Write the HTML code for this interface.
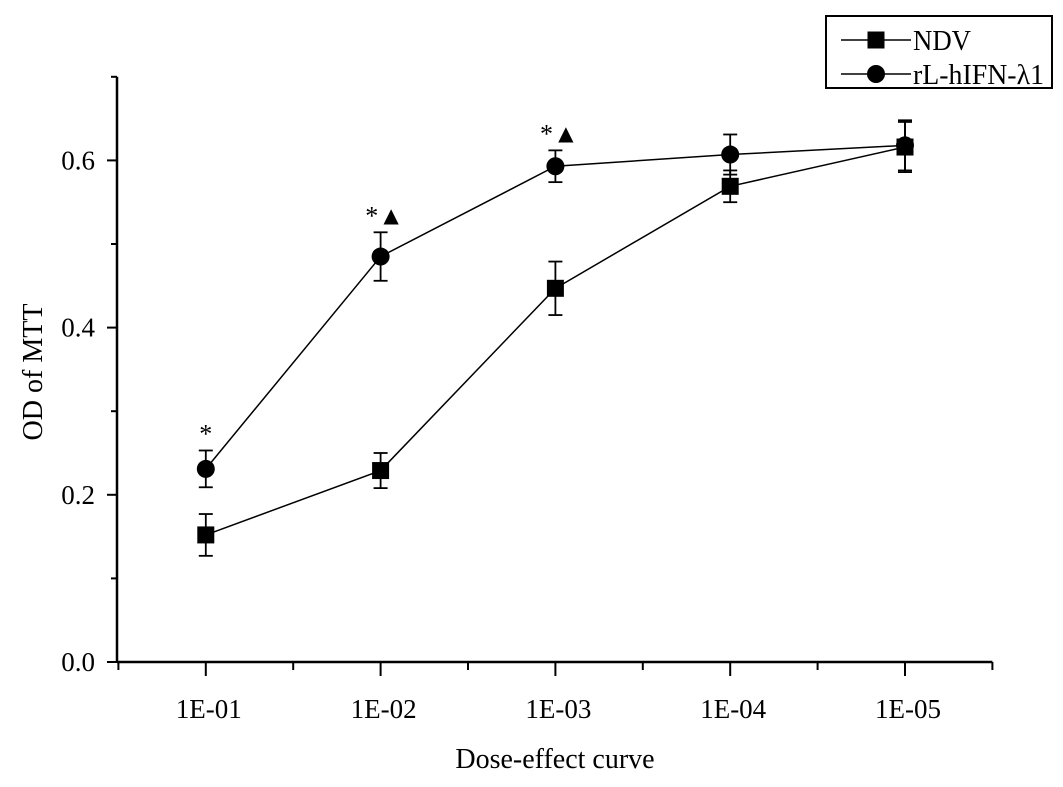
<!DOCTYPE html>
<html><head><meta charset="utf-8"><style>
html,body{margin:0;padding:0;background:#fff;}
svg text{font-family:"Liberation Serif",serif;fill:#000;}
</style></head><body>
<svg id="chart" width="1063" height="782" viewBox="0 0 1063 782" xmlns="http://www.w3.org/2000/svg">
<g id="axes"></g><g id="series"></g><g id="legend"></g>
</svg>
<script>
const categories = ["1E-01","1E-02","1E-03","1E-04","1E-05"];
const ndvValues = [0.152,0.229,0.447,0.569,0.616];
const ndvErrors = [0.025,0.021,0.032,0.019,0.03];
const rlValues = [0.231,0.485,0.593,0.607,0.618];
const rlErrors = [0.022,0.029,0.019,0.024,0.03];
const yTicks = [0.0,0.2,0.4,0.6];
const yTickLabels = ["0.0","0.2","0.4","0.6"];
const annotations = ["*","*▲","*▲","",""];

const NS="http://www.w3.org/2000/svg";
function mk(tag,attrs,parent){const e=document.createElementNS(NS,tag);for(const k in attrs)e.setAttribute(k,attrs[k]);parent.appendChild(e);return e;}
const X0=205.8, XS=174.8, Y0=662, YS=836;
function xs(i){return X0+i*XS;}
function ys(v){return Y0-v*YS;}
const axes=document.getElementById('axes');
let yl=mk('line',{x1:117,y1:ys(0.7),x2:117,y2:Y0,stroke:'#000','stroke-width':2.5},axes);


let xl=mk('line',{x1:117,y1:Y0,x2:xs(4.5),y2:Y0,stroke:'#000','stroke-width':2.5},axes);


for(let v=0;v<=0.7001;v+=0.1){
  const major=Math.round(v*10)%2===0;
  mk('line',{x1:117,y1:ys(v),x2:117-(major?10:6),y2:ys(v),stroke:'#000','stroke-width':2},axes);
}
yTicks.forEach((v,i)=>{
  const t=mk('text',{x:95,y:ys(v)+9,'text-anchor':'end','font-size':27},axes);
  t.textContent=yTickLabels[i];
  
  
});
for(let k=-0.5;k<=4.51;k+=0.5){
  const major=Math.abs(k-Math.round(k))<0.01;
  mk('line',{x1:xs(k),y1:Y0,x2:xs(k),y2:Y0+(major?14:8),stroke:'#000','stroke-width':2},axes);
}
categories.forEach((c,i)=>{
  const t=mk('text',{x:xs(i)+3,y:718,'text-anchor':'middle','font-size':27},axes);
  t.textContent=c;
  
  
});
let xt=mk('text',{x:555,y:768,'text-anchor':'middle','font-size':28},axes);
xt.textContent='Dose-effect curve';


let yt=mk('text',{x:0,y:0,'text-anchor':'middle','font-size':28,transform:'translate(42,372) rotate(-90)'},axes);
yt.textContent='OD of MTT';



const ser=document.getElementById('series');
function marker(x,y,shape,parent){
  if(shape==='square') return mk('rect',{x:x-8.5,y:y-8.5,width:17,height:17,fill:'#000'},parent);
  return mk('circle',{cx:x,cy:y,r:9,fill:'#000'},parent);
}
function drawSeries(vals,errs,shape,name){
  const g=mk('g',{},ser);
  
  
  mk('polyline',{points:vals.map((v,i)=>xs(i)+','+ys(v)).join(' '),fill:'none',stroke:'#000','stroke-width':1.5},g);
  vals.forEach((v,i)=>{
    const x=xs(i),t=ys(v+errs[i]),b=ys(v-errs[i]);
    mk('line',{x1:x,y1:t,x2:x,y2:b,stroke:'#000','stroke-width':1.8},g);
    mk('line',{x1:x-7,y1:t,x2:x+7,y2:t,stroke:'#000','stroke-width':1.8},g);
    mk('line',{x1:x-7,y1:b,x2:x+7,y2:b,stroke:'#000','stroke-width':1.8},g);
    const m=marker(x,ys(v),shape,g);
    
    
  });
}
drawSeries(ndvValues,ndvErrors,'square','ndv-series');
drawSeries(rlValues,rlErrors,'circle','rl-hifn-series');
annotations.forEach((a,i)=>{
  if(!a)return;
  const t=mk('text',{x:xs(i)+(a.length>1?4:0),y:ys(rlValues[i]+rlErrors[i])-8,'text-anchor':'middle','font-size':26},ser);
  t.textContent=a;
  
  
});

const lg=document.getElementById('legend');


mk('rect',{x:826,y:16,width:226,height:72,fill:'#fff',stroke:'#000','stroke-width':2},lg);
[['NDV','square',40],['rL-hIFN-λ1','circle',74]].forEach(([lab,sh,y])=>{
  const g=mk('g',{},lg);
  
  
  mk('line',{x1:841,y1:y,x2:911,y2:y,stroke:'#000','stroke-width':1.5},g);
  marker(876,y,sh,g);
  const t=mk('text',{x:913,y:y+10,'font-size':28,textLength:lab.length>3?131:58,lengthAdjust:'spacingAndGlyphs'},g);
  t.textContent=lab;
});
</script>
</body></html>
